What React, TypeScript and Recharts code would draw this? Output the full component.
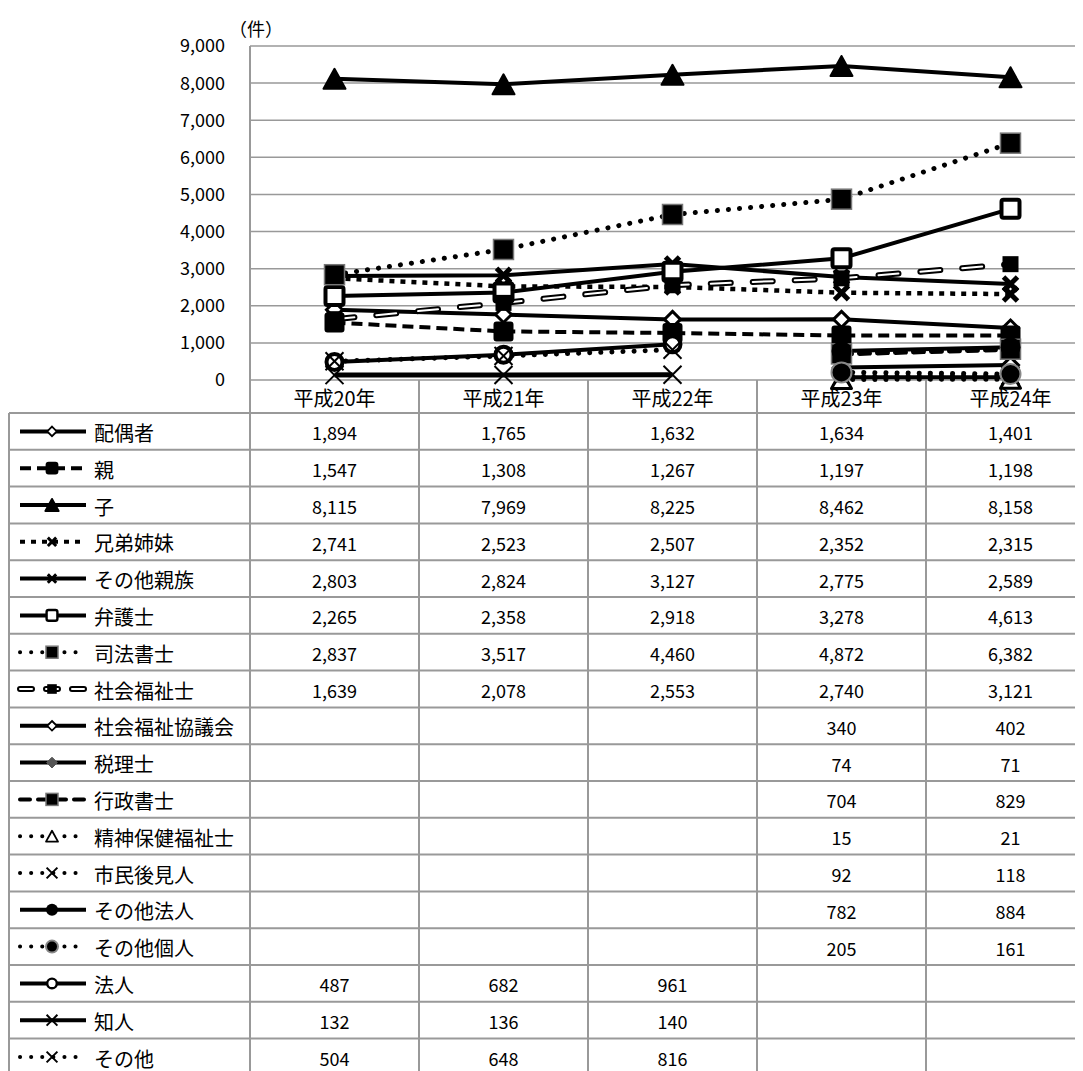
import { LineChart, Line, XAxis, YAxis, CartesianGrid } from 'recharts'

// 平成20年〜24年 申立人別件数
const years = ['平成20年', '平成21年', '平成22年', '平成23年', '平成24年']

const spouse = [1894, 1765, 1632, 1634, 1401]
const parent = [1547, 1308, 1267, 1197, 1198]
const child = [8115, 7969, 8225, 8462, 8158]
const sibling = [2741, 2523, 2507, 2352, 2315]
const otherRelative = [2803, 2824, 3127, 2775, 2589]
const lawyer = [2265, 2358, 2918, 3278, 4613]
const judicialScrivener = [2837, 3517, 4460, 4872, 6382]
const socialWorker = [1639, 2078, 2553, 2740, 3121]
const welfareCouncil = [null, null, null, 340, 402]
const taxAccountant = [null, null, null, 74, 71]
const adminScrivener = [null, null, null, 704, 829]
const psychSocialWorker = [null, null, null, 15, 21]
const citizenGuardian = [null, null, null, 92, 118]
const otherCorp = [null, null, null, 782, 884]
const otherPerson = [null, null, null, 205, 161]
const corp = [487, 682, 961, null, null]
const acquaintance = [132, 136, 140, null, null]
const other = [504, 648, 816, null, null]

const yTicks = [0, 1000, 2000, 3000, 4000, 5000, 6000, 7000, 8000, 9000]

const FONT = '"Noto Sans CJK JP", "Noto Sans", sans-serif'
const DOTS = '0.1 11'

type Series = {
  key: string
  name: string
  values: (number | null)[]
  width: number
  dash?: string
  cap?: 'round' | 'butt'
  marker: string
  double?: boolean
}

const series: Series[] = [
  { key: 's1', name: '配偶者', values: spouse, width: 4, marker: 'diamondHollow' },
  { key: 's2', name: '親', values: parent, width: 4, dash: '11 6', marker: 'square' },
  { key: 's3', name: '子', values: child, width: 4, marker: 'triangle' },
  { key: 's4', name: '兄弟姉妹', values: sibling, width: 4.5, dash: '5 6', marker: 'xBold' },
  { key: 's5', name: 'その他親族', values: otherRelative, width: 4, marker: 'xBold' },
  { key: 's6', name: '弁護士', values: lawyer, width: 4, marker: 'squareHollow' },
  { key: 's7', name: '司法書士', values: judicialScrivener, width: 5, dash: DOTS, cap: 'round', marker: 'squareGray' },
  { key: 's8', name: '社会福祉士', values: socialWorker, width: 6, dash: '20 22', cap: 'round', marker: 'squareSmall', double: true },
  { key: 's9', name: '社会福祉協議会', values: welfareCouncil, width: 4, marker: 'diamondHollow' },
  { key: 's10', name: '税理士', values: taxAccountant, width: 4, marker: 'diamondGray' },
  { key: 's11', name: '行政書士', values: adminScrivener, width: 5, dash: '10 8', cap: 'round', marker: 'squareGray' },
  { key: 's12', name: '精神保健福祉士', values: psychSocialWorker, width: 5, dash: DOTS, cap: 'round', marker: 'triangleHollow' },
  { key: 's13', name: '市民後見人', values: citizenGuardian, width: 5, dash: DOTS, cap: 'round', marker: 'xThin' },
  { key: 's14', name: 'その他法人', values: otherCorp, width: 4, marker: 'circle' },
  { key: 's15', name: 'その他個人', values: otherPerson, width: 5, dash: DOTS, cap: 'round', marker: 'circleGray' },
  { key: 's16', name: '法人', values: corp, width: 4, marker: 'circleHollow' },
  { key: 's17', name: '知人', values: acquaintance, width: 5, marker: 'xThin' },
  { key: 's18', name: 'その他', values: other, width: 5, dash: DOTS, cap: 'round', marker: 'xThin' },
]

const data = years.map((y, i) => {
  const row: Record<string, any> = { year: y }
  series.forEach((s) => {
    row[s.key] = s.values[i]
  })
  return row
})

function Marker({ shape, cx, cy, s }: { shape: string; cx: number; cy: number; s: number }) {
  switch (shape) {
    case 'diamondHollow': {
      const h = 8 * s
      return <polygon points={`${cx},${cy - h} ${cx + h},${cy} ${cx},${cy + h} ${cx - h},${cy}`} fill="#fff" stroke="#000" strokeWidth={3 * s} />
    }
    case 'diamondGray': {
      const h = 9 * s
      return <polygon points={`${cx},${cy - h} ${cx + h},${cy} ${cx},${cy + h} ${cx - h},${cy}`} fill="#555" stroke="#555" strokeWidth={1} />
    }
    case 'square': {
      const h = 9 * s
      return <rect x={cx - h} y={cy - h} width={2 * h} height={2 * h} rx={2} fill="#000" stroke="#000" strokeWidth={2} />
    }
    case 'squareHollow': {
      const h = 9 * s
      return <rect x={cx - h} y={cy - h} width={2 * h} height={2 * h} rx={2} fill="#fff" stroke="#000" strokeWidth={4 * s} />
    }
    case 'squareGray': {
      const h = 10 * s
      return <rect x={cx - h} y={cy - h} width={2 * h} height={2 * h} fill="#000" stroke="#777" strokeWidth={1.5} />
    }
    case 'squareSmall': {
      const h = 8 * s
      return <rect x={cx - h} y={cy - h} width={2 * h} height={2 * h} fill="#000" />
    }
    case 'triangle': {
      const w = 11 * s
      const h = 10 * s
      return <polygon points={`${cx},${cy - h} ${cx + w},${cy + h} ${cx - w},${cy + h}`} fill="#000" stroke="#000" strokeWidth={2} strokeLinejoin="round" />
    }
    case 'triangleHollow': {
      const w = 10 * s
      const h = 9 * s
      return <polygon points={`${cx},${cy - h} ${cx + w},${cy + h} ${cx - w},${cy + h}`} fill="#fff" stroke="#000" strokeWidth={3 * s} strokeLinejoin="round" />
    }
    case 'xBold': {
      const h = 7 * s
      return (
        <g stroke="#000" strokeWidth={5 * s}>
          <line x1={cx - h} y1={cy - h} x2={cx + h} y2={cy + h} />
          <line x1={cx - h} y1={cy + h} x2={cx + h} y2={cy - h} />
        </g>
      )
    }
    case 'xThin': {
      const h = 9 * s
      return (
        <g stroke="#000" strokeWidth={2}>
          <line x1={cx - h} y1={cy - h} x2={cx + h} y2={cy + h} />
          <line x1={cx - h} y1={cy + h} x2={cx + h} y2={cy - h} />
        </g>
      )
    }
    case 'circle':
      return <circle cx={cx} cy={cy} r={10 * s} fill="#000" />
    case 'circleGray':
      return <circle cx={cx} cy={cy} r={10 * s} fill="#000" stroke="#888" strokeWidth={2} />
    case 'circleHollow':
      return <circle cx={cx} cy={cy} r={8 * s} fill="#fff" stroke="#000" strokeWidth={4 * s} />
    default:
      return null
  }
}

const dotFor = (shape: string, key: string) => (p: any) => {
  const k = `${key}-${p.index}`
  const v = p.payload ? p.payload[key] : null
  if (v == null || p.cy == null || isNaN(p.cy)) return <g key={k} />
  return (
    <g key={k}>
      <Marker shape={shape} cx={p.cx} cy={p.cy} s={1} />
    </g>
  )
}

// table geometry (relative to the wrapper, which sits at the 8px body margin)
const PLOT_LEFT = 242
const BAND = 169
const HEADER_TOP = 372
const ROW_TOP = 405
const ROW_H = 36.8
const GRID = '#999'

function DataTable() {
  const right = PLOT_LEFT + BAND * years.length
  const bottom = ROW_TOP + ROW_H * series.length
  return (
    <svg width={1087} height={1063} style={{ position: 'absolute', left: 0, top: 0, pointerEvents: 'none' }}>
      <text x={248} y={20} textAnchor="middle" dominantBaseline="central" fontSize={18} fontFamily={FONT}>
        （件）
      </text>
      {/* horizontal rules */}
      {series.map((_, i) => (
        <line key={`h${i}`} x1={1} x2={right} y1={ROW_TOP + ROW_H * i} y2={ROW_TOP + ROW_H * i} stroke={GRID} strokeWidth={2} />
      ))}
      <line x1={1} x2={right} y1={bottom} y2={bottom} stroke={GRID} strokeWidth={2} />
      {/* vertical rules */}
      <line x1={1} x2={1} y1={ROW_TOP} y2={bottom} stroke={GRID} strokeWidth={2} />
      {years.map((_, i) => (
        <line key={`v${i}`} x1={PLOT_LEFT + BAND * i} x2={PLOT_LEFT + BAND * i} y1={HEADER_TOP} y2={bottom} stroke={GRID} strokeWidth={2} />
      ))}
      {/* header */}
      {years.map((y, i) => (
        <text key={`y${i}`} x={PLOT_LEFT + BAND * i + BAND / 2} y={(HEADER_TOP + ROW_TOP) / 2 + 1} textAnchor="middle" dominantBaseline="central" fontSize={20} fontFamily={FONT}>
          {y}
        </text>
      ))}
      {series.map((s, r) => {
        const cy = ROW_TOP + ROW_H * r + ROW_H / 2
        return (
          <g key={`r${r}`}>
            <line x1={12} x2={78} y1={cy} y2={cy} stroke="#000" strokeWidth={s.double ? 6 : 4} strokeDasharray={s.dash ? (s.double ? '12 14' : s.dash) : undefined} strokeLinecap={s.cap || 'butt'} />
            {s.double && <line x1={12} x2={78} y1={cy} y2={cy} stroke="#fff" strokeWidth={2} strokeDasharray="12 14" strokeLinecap="round" />}
            <Marker shape={s.marker} cx={44} cy={cy} s={0.6} />
            <text x={86} y={cy + 1} dominantBaseline="central" fontSize={20} fontFamily={FONT}>
              {s.name}
            </text>
            {s.values.map((v, i) =>
              v == null ? null : (
                <text key={i} x={PLOT_LEFT + BAND * i + BAND / 2} y={cy + 1} textAnchor="middle" dominantBaseline="central" fontSize={18} fontFamily={FONT}>
                  {v.toLocaleString('en-US')}
                </text>
              )
            )}
          </g>
        )
      })}
    </svg>
  )
}

export default function App() {
  return (
    <div style={{ position: 'relative', width: 1075, height: 1063, overflow: 'hidden', background: '#fff', fontFamily: FONT }}>
      <LineChart width={1087} height={400} data={data} margin={{ top: 38, right: 0, bottom: 28, left: 0 }}>
        <CartesianGrid vertical={false} stroke={GRID} strokeWidth={1.5} />
        <XAxis dataKey="year" scale="band" hide />
        <YAxis
          width={242}
          domain={[0, 9000]}
          ticks={yTicks}
          interval={0}
          axisLine={{ stroke: GRID, strokeWidth: 2 }}
          tickLine={false}
          tickSize={6}
          tickMargin={19}
          tick={{ fontSize: 18, fill: '#000', fontFamily: FONT }}
          tickFormatter={(v: number) => v.toLocaleString('en-US')}
        />
        {series.flatMap((s) => {
          const lines = [
            <Line
              key={s.key}
              dataKey={s.key}
              name={s.name}
              stroke="#000"
              strokeWidth={s.width}
              strokeDasharray={s.dash}
              strokeLinecap={s.cap || 'butt'}
              dot={s.double ? false : dotFor(s.marker, s.key)}
              activeDot={false}
              isAnimationActive={false}
            />,
          ]
          if (s.double) {
            lines.push(
              <Line
                key={`${s.key}-inner`}
                dataKey={s.key}
                legendType="none"
                stroke="#fff"
                strokeWidth={2}
                strokeDasharray={s.dash}
                strokeLinecap="round"
                dot={dotFor(s.marker, s.key)}
                activeDot={false}
                isAnimationActive={false}
              />
            )
          }
          return lines
        })}
      </LineChart>
      <DataTable />
    </div>
  )
}
